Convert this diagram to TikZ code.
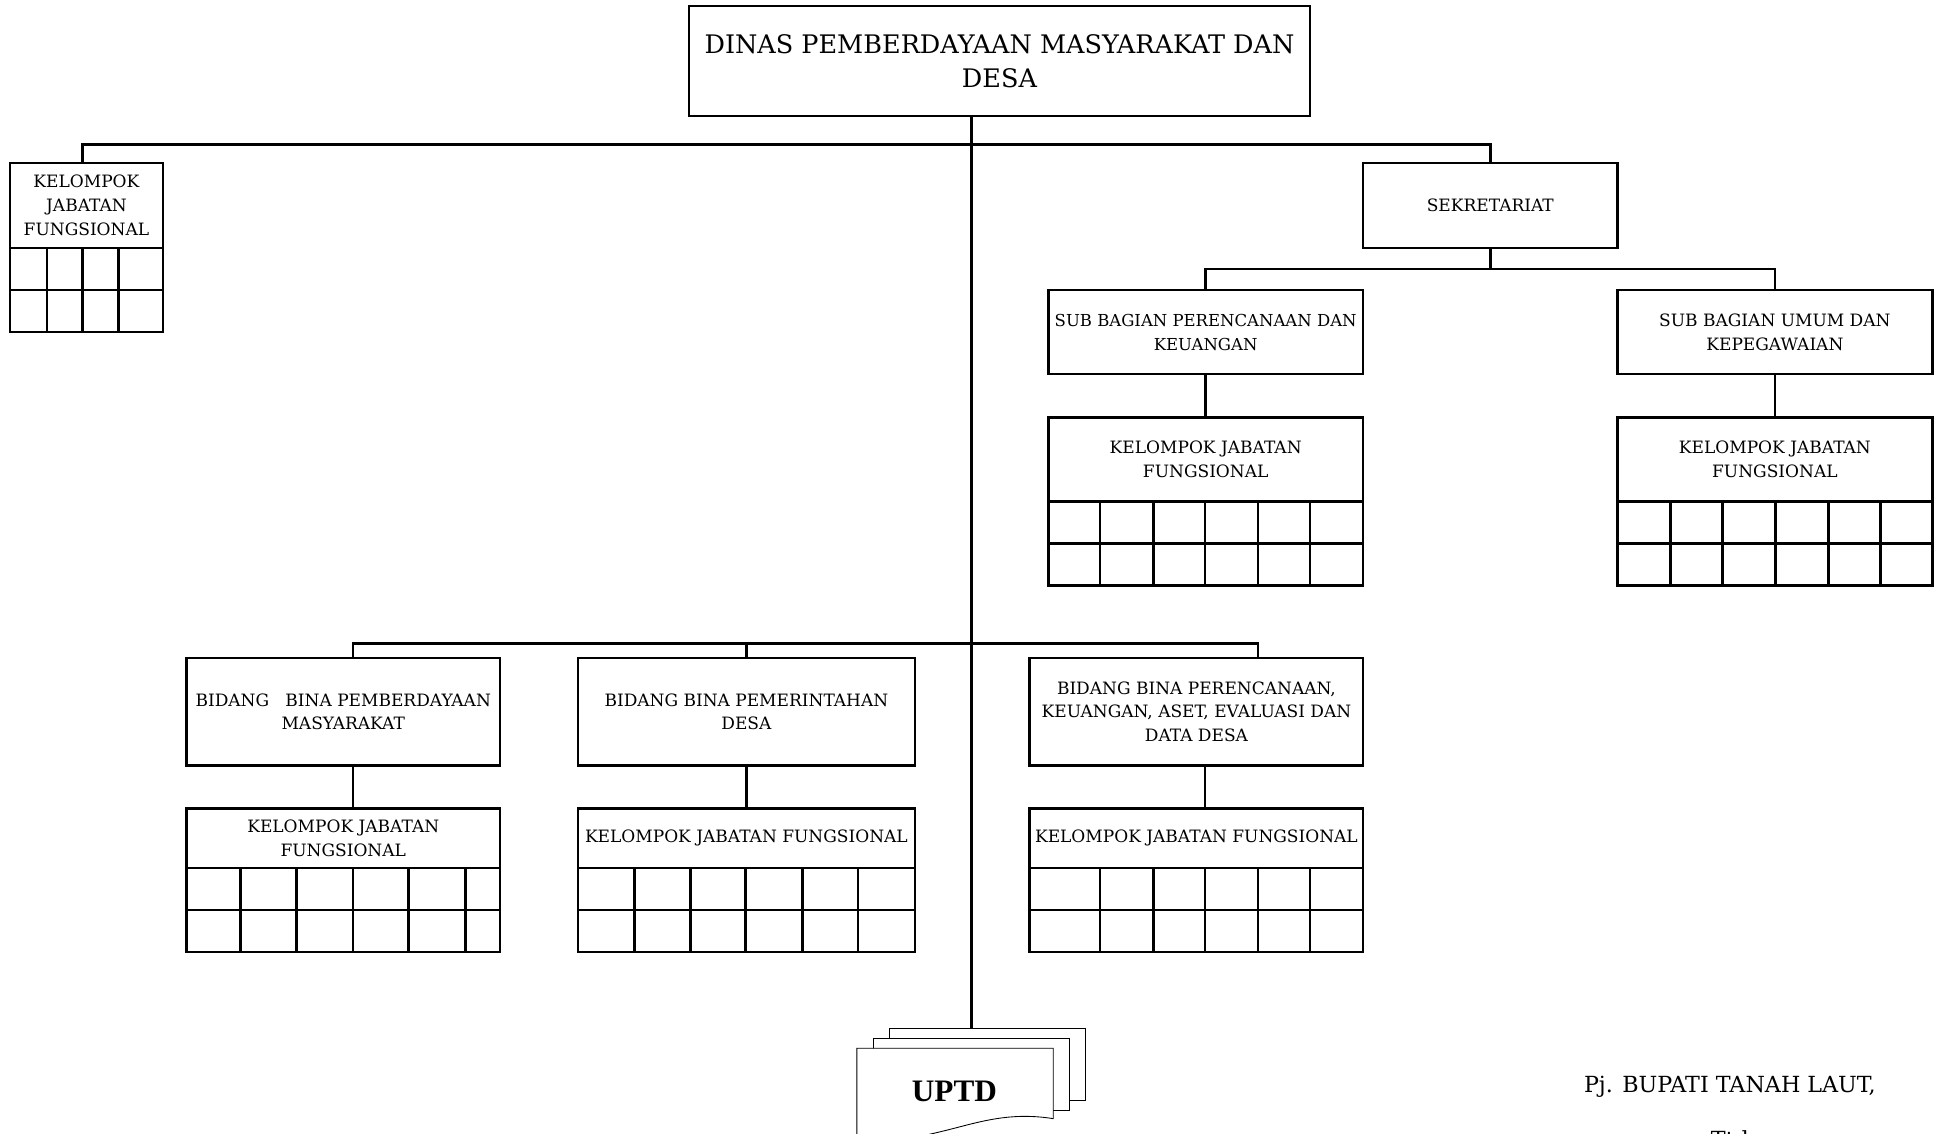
\documentclass[tikz,border=0pt]{standalone}
\usepackage{fontspec}
\setmainfont{DejaVu Serif}
\newfontfamily\timesfont{Liberation Serif}
\usetikzlibrary{calc}
\tikzset{
  unit/.style={draw, line width=1.5pt, inner sep=0pt, align=center, font=\fontsize{9.8}{13.8}\selectfont},
  area/.style n args={4}{minimum width={(#3-#1)*0.025cm}, minimum height={(#4-#2)*0.025cm}, at={({(#1+#3)/2},{(#2+#4)/2})}},
  link/.style={line width=1.5pt},
  page/.style={draw, line width=0.5pt, fill=white},
}
% kotak-kotak jabatan fungsional: x kiri, x kanan, y atas, garis kolom
\newcommand{\jfgrid}[4]{%
  \draw[link] (#1,#3) rectangle (#2,#3+68);
  \draw[link] (#1,#3+34) -- (#2,#3+34);
  \foreach \c in {#4} \draw[link] (\c,#3) -- (\c,#3+68);
}

\begin{document}
\begin{tikzpicture}[x=0.025cm,y=-0.025cm]
  \useasboundingbox (0,0) rectangle (1568,918);

  %%%%% KEPALA DINAS %%%%%
  \node[unit, area={558}{5}{1061}{94}, font=\fontsize{14.7}{19.9}\selectfont] (dinas) {DINAS PEMBERDAYAAN MASYARAKAT DAN\\DESA};

  \coordinate (hub) at (787,117);
  \coordinate (bidbus) at (787,521);
  \coordinate (sekbus) at (1207,218);
  \coordinate (pages) at (787,833);

  %%%%% SEKRETARIAT %%%%%
  \node[unit, area={8}{132}{132}{201}] (kjf0) {KELOMPOK\\JABATAN\\FUNGSIONAL};
  \jfgrid{8}{132}{201}{38,67,96}

  \node[unit, area={1104}{132}{1310}{201}] (sekr) {SEKRETARIAT};

  \node[unit, area={849}{235}{1104}{303}, font=\fontsize{9.5}{13.8}\selectfont] (sbpk) {SUB BAGIAN PERENCANAAN DAN\\KEUANGAN};
  \node[unit, area={1310}{235}{1565}{303}] (sbuk) {SUB BAGIAN UMUM DAN\\KEPEGAWAIAN};

  \node[unit, area={849}{338}{1104}{406}] (kjf1) {KELOMPOK JABATAN\\FUNGSIONAL};
  \jfgrid{849}{1104}{406}{891,934,976,1019,1061}
  \node[unit, area={1310}{338}{1565}{406}] (kjf2) {KELOMPOK JABATAN\\FUNGSIONAL};
  \jfgrid{1310}{1565}{406}{1353,1395,1438,1481,1523}

  %%%%% BIDANG %%%%%
  \node[unit, area={151}{533}{405}{620}] (bpm) {BIDANG~~~BINA PEMBERDAYAAN\\MASYARAKAT};
  \node[unit, area={468}{533}{741}{620}] (bpd) {BIDANG BINA PEMERINTAHAN\\DESA};
  \node[unit, area={834}{533}{1104}{620}] (bdata) {BIDANG BINA PERENCANAAN,\\KEUANGAN, ASET, EVALUASI DAN\\DATA DESA};

  \node[unit, area={151}{655}{405}{703}] (kjf3) {KELOMPOK JABATAN\\FUNGSIONAL};
  \jfgrid{151}{405}{703}{195,240,286,331,377}
  \node[unit, area={468}{655}{741}{703}] (kjf4) {KELOMPOK JABATAN FUNGSIONAL};
  \jfgrid{468}{741}{703}{514,559,604,650,695}
  \node[unit, area={834}{655}{1104}{703}] (kjf5) {KELOMPOK JABATAN FUNGSIONAL};
  \jfgrid{834}{1104}{703}{891,934,976,1019,1061}

  %%%%% GARIS %%%%%
  \draw[link] (dinas.south -| hub) -- (pages);
  \draw[link] ($(kjf0.north)+(-3,0)$) |- (hub) -| (sekr.north);
  \draw[link] (sekr.south) -- (sekbus);
  \draw[link] (sbpk.north) |- (sekbus) -| (sbuk.north);
  \draw[link] (sbpk.south) -- (kjf1.north);
  \draw[link] (sbuk.south) -- (kjf2.north);

  \draw[link] ($(bpm.north)+(8,0)$) |- (bidbus) -| ($(bdata.north)+(50,0)$);
  \draw[link] (bpd.north) -- (bpd.north |- bidbus);
  \draw[link] ($(bpm.south)+(8,0)$) -- ($(kjf3.north)+(8,0)$);
  \draw[link] (bpd.south) -- (kjf4.north);
  \draw[link] ($(bdata.south)+(7,0)$) -- ($(kjf5.north)+(7,0)$);

  %%%%% UPTD %%%%%
  \draw[page] (720,833) rectangle (879,891);
  \draw[page] (707,841) rectangle (866,899);
  \draw[page] (694,849) -- (853,849) -- (853,906)
    .. controls (815,900) and (790,910) .. (760,917)
    .. controls (735,923) and (715,926) .. (694,928) -- cycle;
  \node[font=\timesfont\bfseries\fontsize{18}{22}\selectfont] (uptd) at (773,884) {UPTD};

  %%%%% TANDA TANGAN %%%%%
  \node[font=\fontsize{12.8}{16}\selectfont] (pj) at (1401,880) {Pj. BUPATI TANAH LAUT,};
  \node[font=\fontsize{12.8}{16}\selectfont] (ttd) at (1401,923) {Ttd};
\end{tikzpicture}
\end{document}
